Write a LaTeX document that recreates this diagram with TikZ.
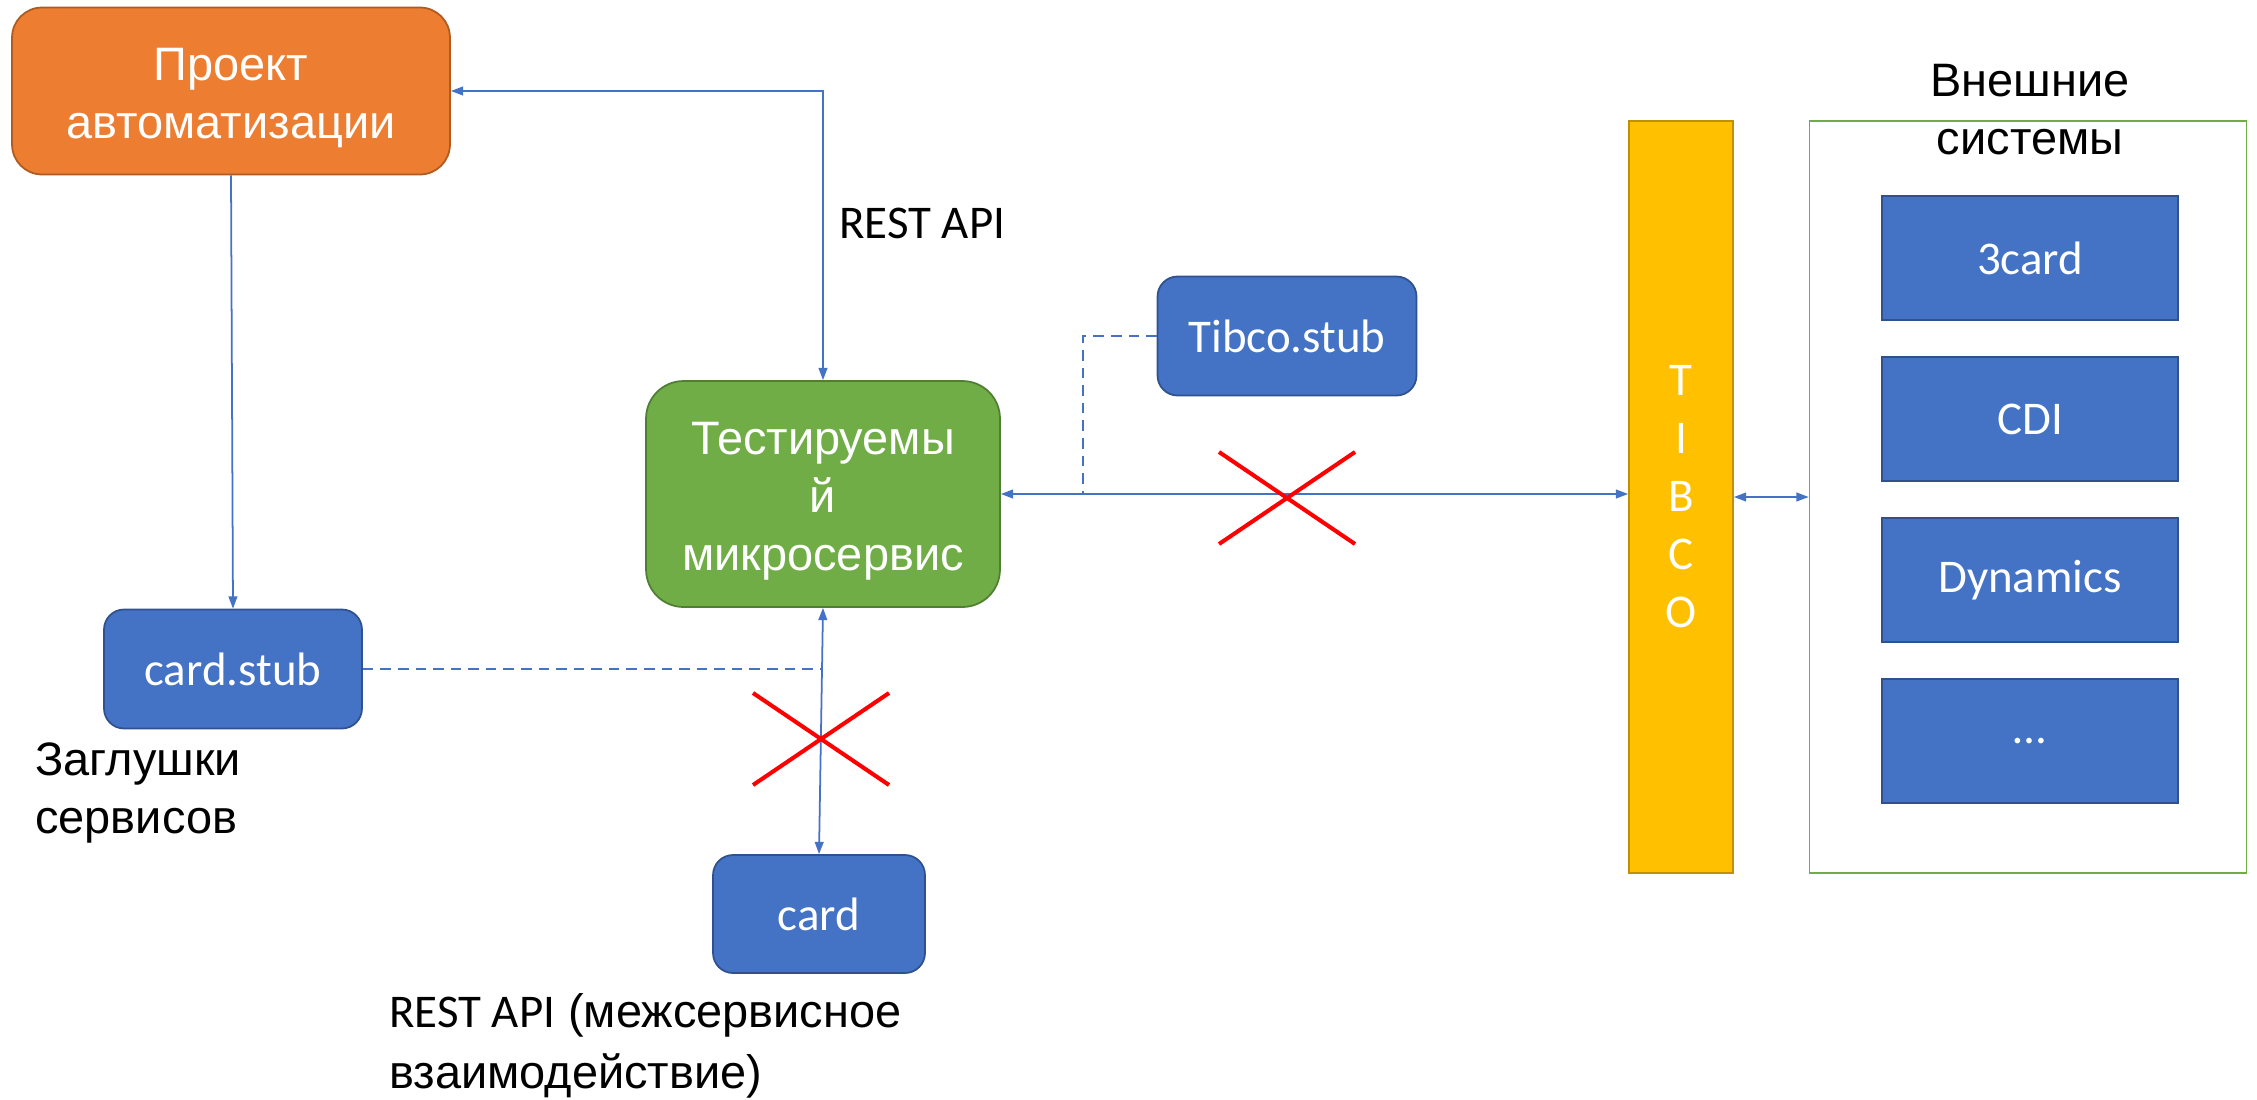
\documentclass[tikz,border=0pt]{standalone}
\usepackage{fontspec}
\setmainfont{Liberation Sans}
\newfontfamily\calibri{Carlito}
\usepackage{xcolor}
\usetikzlibrary{arrows.meta, positioning, shapes.misc}

\definecolor{projorange}{HTML}{ED7D31}
\definecolor{projedge}{HTML}{AE5A21}
\definecolor{msvcgreen}{HTML}{70AD47}
\definecolor{msvcedge}{HTML}{507E32}
\definecolor{boxblue}{HTML}{4472C4}
\definecolor{blueedge}{HTML}{2F528F}
\definecolor{tibcoyellow}{HTML}{FFC000}
\definecolor{tibcoedge}{HTML}{BF9000}

\begin{document}
\begin{tikzpicture}[x=0.02cm,y=-0.02cm,node distance=3.22cm,on grid,
    >={Triangle[length=7pt,width=5pt]}]
  \tikzstyle{big}=[font=\fontsize{26.7}{33}\selectfont]
  \tikzstyle{box}=[big, draw, line width=1pt, align=center, text=white, inner sep=0pt]
  \tikzstyle{stub}=[box, fill=boxblue, draw=blueedge, rounded corners=0.4cm,
    font=\calibri\fontsize{26.7}{33}\selectfont]
  \tikzstyle{sys}=[stub, rounded corners=0pt, minimum width=5.92cm, minimum height=2.48cm]
  \tikzstyle{link}=[draw=boxblue, line width=1pt]
  \tikzstyle{stublink}=[link, dash pattern=on 6pt off 4pt]
  \tikzstyle{blocked}=[cross out, draw=red, line width=2.3pt, inner sep=0pt,
    minimum width=2.64cm, minimum height=1.76cm]
  \tikzstyle{caption}=[big, align=left, anchor=west, inner sep=0pt]

  \useasboundingbox (0,0) rectangle (2257,1099);

  \node[box, fill=projorange, draw=projedge, rounded corners=0.6cm,
    minimum width=8.76cm, minimum height=3.34cm] (proj) at (231,91)
    {\rule{0pt}{26pt}Проект\\автоматизации};
  \node[box, fill=msvcgreen, draw=msvcedge, rounded corners=0.75cm,
    minimum width=7.08cm, minimum height=4.52cm] (msvc) at (823,494)
    {\rule{0pt}{27pt}Тестируемы\\й\\микросервис};

  \node[stub, minimum width=5.18cm, minimum height=2.38cm] (tstub) at (1287,336) {Tibco.stub};
  \node[stub, minimum width=5.16cm, minimum height=2.38cm] (cstub) at (233,669) {card.stub};
  \node[stub, minimum width=4.24cm, minimum height=2.36cm] (card) at (819,914) {card};

  \node[box, fill=tibcoyellow, draw=tibcoedge, minimum width=2.08cm, minimum height=15.04cm,
    font=\calibri\fontsize{26.7}{33}\selectfont] (tibco) at (1681,497) {T\\I\\B\\C\\O};
  \node[draw=msvcgreen, line width=1pt, minimum width=8.74cm, minimum height=15.04cm]
    (ext) at (2028,497) {};
  \node[big, align=center] (ext_label) at (2030,110) {Внешние\\системы};

  \node[sys] (s_1) at (2030,258) {3card};
  \node[sys] (s_2) [below of=s_1] {CDI};
  \node[sys] (s_3) [below of=s_2] {Dynamics};
  \node[sys] (s_4) [below of=s_3] {…};

  % labels
  \node[caption, font=\calibri\fontsize{26.7}{33}\selectfont] (rest) at (839,223) {REST API};
  \node[caption] (stubs) at (35,793) {Заглушки\\сервисов};
  \node[caption, font=\fontsize{26.7}{35}\selectfont] (rest_inner) at (389,1046)
    {{\calibri REST API} (межсервисное\\взаимодействие)};

  % connectors
  \draw[link, <->] (msvc.north) |- (proj.east);
  \path (proj.south) edge[link, ->] (cstub.north)
        (msvc.south) edge[link, <->] (card.north)
        (msvc.east)  edge[link, <->] (msvc.east -| tibco.west)
        (tibco.east |- ext.west) edge[link, <->] (ext.west);

  \coordinate (cjoin) at (822,669);
  \coordinate (tjoin) at (1083,494);
  \draw[stublink] (cstub.east) -- (cjoin);
  \draw[stublink] (tstub.west) -| (tjoin);

  \node[blocked] (x_1) at (1287,498) {};
  \node[blocked] (x_2) at (821,739) {};
\end{tikzpicture}
\end{document}
